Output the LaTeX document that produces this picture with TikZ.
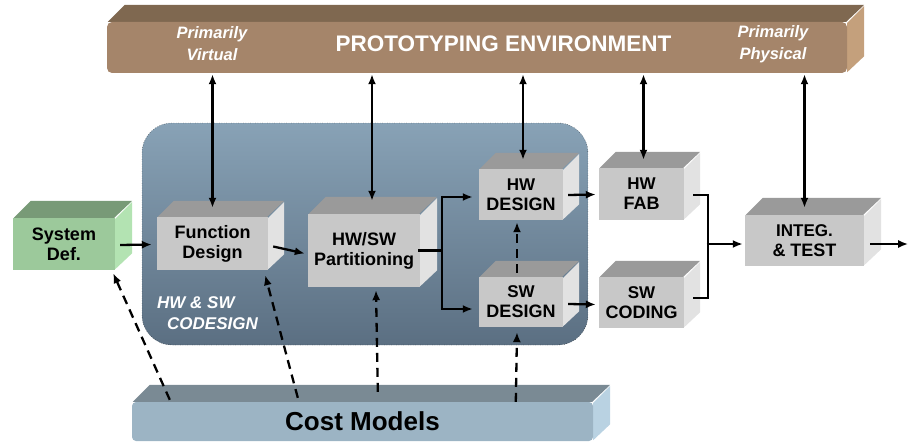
\documentclass[tikz,border=0pt]{standalone}
\usepackage{fontspec}
\setmainfont{Liberation Sans}
\usetikzlibrary{arrows.meta}
\definecolor{brfront}{HTML}{A5856A}
\definecolor{brtop}{HTML}{7F6850}
\definecolor{brside}{HTML}{C4A07C}
\definecolor{gfront}{HTML}{9CC99B}
\definecolor{gtop}{HTML}{789A77}
\definecolor{gside}{HTML}{B3E3B2}
\definecolor{kfront}{HTML}{C8C8C8}
\definecolor{ktop}{HTML}{9A9A9A}
\definecolor{kside}{HTML}{E2E2E2}
\definecolor{cfront}{HTML}{9CB4C4}
\definecolor{ctop}{HTML}{7A8A94}
\definecolor{cside}{HTML}{B9D2E2}
\definecolor{codtop}{HTML}{88A2B6}
\definecolor{codbot}{HTML}{5B6F82}
\tikzset{
  boxtext/.style={font=\fontsize{18}{20}\selectfont\bfseries, align=center, text=black},
  arr/.style={line width=2.3pt, -{Latex[length=10pt,width=8pt]}},
  darr/.style={arr, dash pattern=on 9pt off 6pt},
  biarr/.style={line width=2.3pt, {Latex[length=10pt,width=8pt]}-{Latex[length=10pt,width=8pt]}},
  ln/.style={line width=2.3pt},
  wtext/.style={text=white, inner sep=0pt, align=center},
  plain/.style={},
}
\newcommand{\cubebox}[9]{%
  \fill[#6top] ([xshift=1pt]#1pos.north west) -- ++(#7,-#7) -- ([shift={(#7,-#7)}]#1pos.north east) -- ([xshift=-1pt]#1pos.north east) -- cycle;
  \fill[#6side] ([yshift=-1pt]#1pos.north east) -- ++(#7,-#7) -- ([shift={(#7,-#7)}]#1pos.south east) -- ([yshift=1pt]#1pos.south east) -- cycle;
  \node[boxtext, fill=#6front, inner sep=0pt, minimum width=#4pt, minimum height=#5pt, #9] (#1) at (#2,#3) {#8};
}
\newcommand{\cubepos}[5]{%
  \path node[inner sep=0pt, minimum width=#4pt, minimum height=#5pt] (#1pos) at (#2,#3) {};
}
\begin{document}
\begin{tikzpicture}[x=1pt,y=-1pt]
\useasboundingbox (0,0) rectangle (908,444);
% codesign region
\node[draw=black, dotted, thin, rounded corners=30pt, top color=codtop, bottom color=codbot,
      minimum width=446pt, minimum height=222pt, inner sep=0pt] (cod) at (365,234) {};
% prototyping environment bar
\cubepos{env}{477}{47.5}{740}{51}
\cubebox{env}{477}{47.5}{740}{51}{br}{17}{}{rounded corners=5pt}
\node[wtext, font=\fontsize{16.5}{22}\selectfont\bfseries\itshape] (pv) at (212,44) {Primarily\\Virtual};
\node[wtext, font=\fontsize{22.5}{24}\selectfont\bfseries] (pe) at (503.5,44) {PROTOTYPING ENVIRONMENT};
\node[wtext, font=\fontsize{16.5}{22}\selectfont\bfseries\itshape] (pp) at (773,44) {Primarily\\Physical};
% boxes
\cubepos{sys}{64}{244}{102}{52}
\cubebox{sys}{64}{244}{102}{52}{g}{17}{System\\Def.}{plain}
\cubepos{fd}{212.5}{243.5}{111}{53}
\cubebox{fd}{212.5}{243.5}{111}{53}{k}{16}{Function\\Design}{plain}
\cubepos{part}{364}{250.5}{112}{73}
\cubebox{part}{364}{250.5}{112}{73}{k}{17}{HW/SW\\Partitioning}{plain}
\cubepos{hwd}{521}{194.5}{84}{51}
\cubebox{hwd}{521}{194.5}{84}{51}{k}{16}{\fontsize{17}{20}\selectfont HW\\DESIGN}{plain}
\cubepos{swd}{521}{302}{84}{50}
\cubebox{swd}{521}{302}{84}{50}{k}{16}{\fontsize{17}{20}\selectfont SW\\DESIGN}{plain}
\cubepos{hwf}{641.5}{194}{85}{52}
\cubebox{hwf}{641.5}{194}{85}{52}{k}{16}{\fontsize{17}{20}\selectfont HW\\FAB}{plain}
\cubepos{swc}{641.5}{302.5}{85}{51}
\cubebox{swc}{641.5}{302.5}{85}{51}{k}{16}{\fontsize{17}{20}\selectfont SW\\CODING}{plain}
\cubepos{integ}{804.5}{240.5}{119}{51}
\cubebox{integ}{804.5}{240.5}{119}{51}{k}{17}{\fontsize{17}{20}\selectfont INTEG.\\\& TEST}{plain}
\cubepos{cost}{362.5}{421.5}{461}{39}
\cubebox{cost}{362.5}{421.5}{461}{39}{c}{17}{\fontsize{26}{28}\selectfont Cost Models}{rounded corners=4pt}
\node[wtext, align=left, anchor=north west, font=\fontsize{17}{21}\selectfont\bfseries\itshape] (cd) at (157,296) {HW \& SW\\\hspace*{10pt}CODESIGN};
% vertical bidirectional arrows
\coordinate (pa) at ([xshift=8pt]part.north);
\coordinate (ha) at ([xshift=2pt]hwd.north);
\coordinate (fa) at ([xshift=2pt]hwf.north);
\draw[biarr] ([yshift=-1pt]fd.north |- env.south) -- ([yshift=9pt]fd.north);
\draw[biarr] ([yshift=-1pt]pa |- env.south) -- ([yshift=13pt]pa);
\draw[biarr] ([yshift=-1pt]ha |- env.south) -- ([yshift=9pt]ha);
\draw[biarr] ([yshift=-1pt]fa |- env.south) -- ([yshift=8pt]fa);
\draw[biarr] ([yshift=-1pt]integ.north |- env.south) -- ([yshift=7pt]integ.north);
% flow arrows
\draw[arr] ([xshift=5pt,yshift=-1pt]sys.east) -- ([xshift=-5pt,yshift=-1pt]fd.west);
\draw[arr] ([xshift=5pt,yshift=-3pt]fd.east) -- ([xshift=-3pt,yshift=-3pt]part.west);
\coordinate (fork) at ([xshift=22pt]part.east);
\coordinate (hwin) at ([xshift=-6pt,yshift=-2.5pt]hwd.west);
\coordinate (swin) at ([xshift=-6pt,yshift=-7pt]swd.west);
\draw[ln] ([xshift=-2pt]part.east) -- (fork);
\draw[ln] ([yshift=1.15pt]fork |- hwin) -- ([yshift=-1.15pt]fork |- swin);
\draw[arr] ([xshift=-1.15pt]fork |- hwin) -- (hwin);
\draw[arr] ([xshift=-1.15pt]fork |- swin) -- (swin);
\draw[arr] ([xshift=5pt,yshift=-0.5pt]hwd.east) -- ([xshift=-3pt,yshift=-0.5pt]hwf.west);
\draw[arr] ([xshift=5pt,yshift=-2pt]swd.east) -- ([xshift=-3pt,yshift=-2pt]swc.west);
\coordinate (join) at ([xshift=-37pt,yshift=-3.5pt]integ.west);
\draw[ln] ([xshift=9pt,yshift=-1pt]hwf.east) -| (join);
\draw[ln] ([xshift=9pt,yshift=4.5pt]swc.east) -| (join);
\draw[arr] ([xshift=-1.15pt]join) -- ([xshift=-2pt]join -| integ.west);
\coordinate (out) at ([xshift=44pt,yshift=-3.5pt]integ.east);
\draw[arr] ([xshift=6pt,yshift=-3.5pt]integ.east) -- (out);
% dashed arrows from cost models
\draw[darr] ([xshift=38pt,yshift=2pt]cost.north west) -- ([xshift=-2pt,yshift=-3pt]sys.south east);
\draw[darr] ([xshift=166pt,yshift=4pt]cost.north west) -- ([xshift=-3pt,yshift=-5pt]fd.south east);
\draw[darr] ([xshift=246pt,yshift=10pt]cost.north west) -- ([xshift=12pt,yshift=-3pt]part.south);
\draw[darr] ([xshift=384pt,yshift=0pt]cost.north west) -- ([xshift=-4pt,yshift=-5pt]swd.south);
\draw[darr] ([xshift=-4pt,yshift=4pt]swd.north) -- ([xshift=-4pt,yshift=-2pt]hwd.south);
\end{tikzpicture}
\end{document}
